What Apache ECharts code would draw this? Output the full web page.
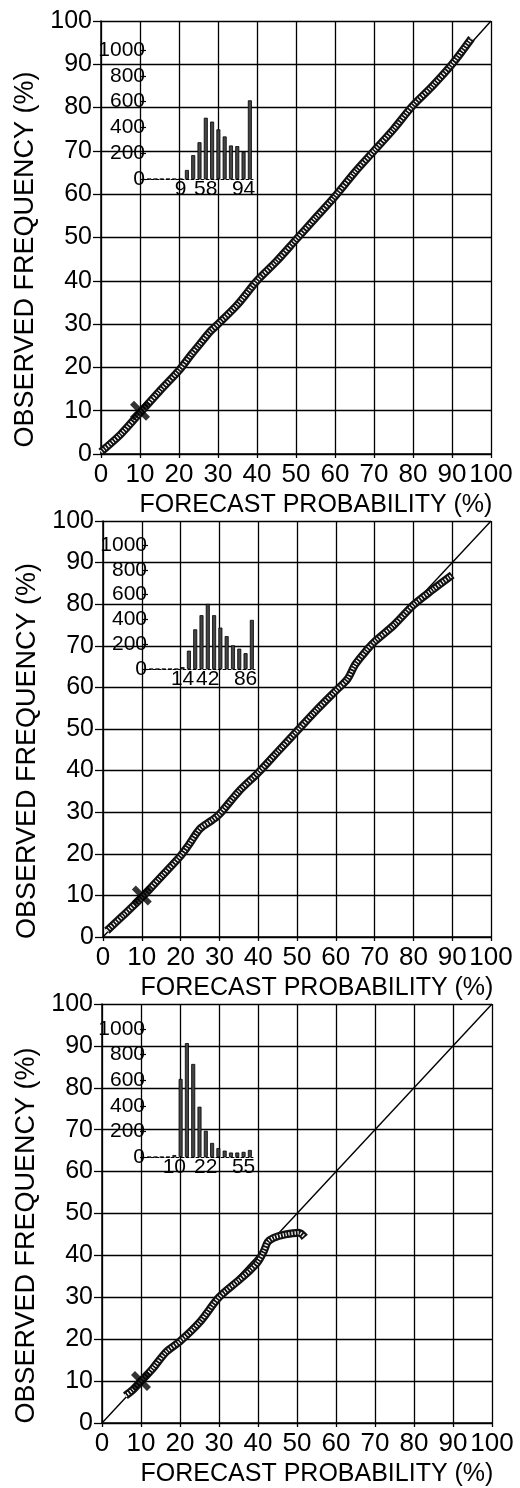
<!DOCTYPE html>
<html>
<head>
<meta charset="utf-8">
<script src="https://cdn.jsdelivr.net/npm/echarts@6/dist/echarts.min.js"></script>
<style>
html,body{margin:0;padding:0;background:#fff;}
#c{width:520px;height:1488px;}
</style>
</head>
<body>
<div id="c"></div>
<script>
// ---- data ----
const diagonal = [[0, 0], [100, 100]];
const climMark = [[10, 10]];

const curve1 = [[0,0.5],[5,4.5],[10,9.5],[15,14.5],[20,19.3],[23,22.8],[25,25],[28,28.3],[30,30],[35,34.5],[40,40],[45,44.5],[50,49.5],[55,54.5],[60,59.5],[65,65],[70,70],[75,75],[80,80.5],[85,85],[90,90],[95,96]];
const curve2 = [[1,1.5],[5,5],[10,9.5],[15,14.5],[20,19.5],[22,22],[25,26],[28,28],[30,29.5],[35,35],[40,39.5],[45,44.5],[50,49.5],[55,54.5],[60,59.2],[63,62],[65,65.5],[68,69],[70,71],[75,75],[80,79.8],[85,83.5],[90,87]];
const curve3 = [[6,6.5],[8,8],[10,10],[13,13],[16.5,17],[20,19.5],[25,24],[30,30],[35,34],[38,36.5],[40,38.5],[41.5,41],[42.5,43.2],[44,44.2],[47,45],[50.5,45.4],[52,44.3]];

const histCats = ['b0','b1','b2','b3','b4','b5','b6','b7','b8','b9','b10','b11','b12','b13','b14','b15','b16'];
const hist1 = [0,0,0,0,0,0,70,185,285,475,445,385,330,260,255,210,610];
const hist2 = [0,0,0,0,0,15,148,320,434,525,434,334,265,191,164,128,396];
const hist3 = [0,0,0,0,15,610,890,727,393,205,110,70,50,35,35,40,55];
const histLabels1 = ['','','','','','9','','','','58','','','','','','94',''];
const histLabels2 = ['','','','','','14','','','','42','','','','','','86',''];
const histLabels3 = ['','','','','10','','','','','22','','','','','','55',''];

const xTitle = 'FORECAST PROBABILITY (%)';
const yTitle = 'OBSERVED FREQUENCY (%)';

// ---- layout ----
const FONT = 'Liberation Sans, Arial, sans-serif';
const mainBoxes = [
  {left: 101, top: 21, width: 390, height: 433},
  {left: 103, top: 521, width: 388, height: 416},
  {left: 102, top: 1004, width: 390, height: 429}
];
const insetBoxes = [
  {left: 146, top: 50, width: 107, height: 129},
  {left: 148, top: 545, width: 107, height: 124},
  {left: 146, top: 1029, width: 107, height: 128}
];
const curves = [curve1, curve2, curve3];
const hists = [hist1, hist2, hist3];
const histLabels = [histLabels1, histLabels2, histLabels3];

const grid = [], xAxis = [], yAxis = [], series = [];
const X_PATH = 'path://M0,2 L2,0 L5,3 L8,0 L10,2 L7,5 L10,8 L8,10 L5,7 L2,10 L0,8 L3,5 Z';

for (let i = 0; i < 3; i++) {
  const m = mainBoxes[i];
  grid.push(Object.assign({containLabel: false}, m));
  const gi = grid.length - 1;
  xAxis.push({
    type: 'value', gridIndex: gi, min: 0, max: 100, interval: 10,
    axisLine: {show: true, onZero: false, lineStyle: {color: '#000', width: 1.5}},
    axisTick: {show: true, length: 4, lineStyle: {color: '#000', width: 1.3}},
    axisLabel: {color: '#000', fontSize: 26, fontFamily: FONT, margin: 8, hideOverlap: false},
    splitLine: {show: true, lineStyle: {color: '#000', width: 1.3}},
    name: xTitle, nameLocation: 'middle', nameGap: 39,
    nameTextStyle: {color: '#000', fontSize: 25, fontFamily: FONT, padding: [0, 0, 0, 40]}
  });
  yAxis.push({
    type: 'value', gridIndex: gi, min: 0, max: 100, interval: 10,
    axisLine: {show: true, onZero: false, lineStyle: {color: '#000', width: 1.5}},
    axisTick: {show: true, length: 8, lineStyle: {color: '#000', width: 1.3}},
    axisLabel: {color: '#000', fontSize: 25, fontFamily: FONT, margin: 9},
    splitLine: {show: true, lineStyle: {color: '#000', width: 1.3}},
    name: yTitle, nameLocation: 'middle', nameGap: 62,
    nameTextStyle: {color: '#000', fontSize: 27, fontFamily: FONT, padding: [0, 44, 0, 0]}
  });
  const ai = xAxis.length - 1;
  series.push({
    type: 'line', xAxisIndex: ai, yAxisIndex: ai, data: diagonal, symbol: 'none',
    lineStyle: {color: '#000', width: 1.4}, z: 3, silent: true
  });
  series.push({
    type: 'line', xAxisIndex: ai, yAxisIndex: ai, data: curves[i], symbol: 'none', smooth: 0.3,
    lineStyle: {color: '#111', width: 8}, z: 4, silent: true
  });
  series.push({
    type: 'line', xAxisIndex: ai, yAxisIndex: ai, data: curves[i], symbol: 'none', smooth: 0.3,
    lineStyle: {color: '#fff', width: 3.5, type: [1.2, 1.8]}, z: 5, silent: true
  });
  series.push({
    type: 'scatter', xAxisIndex: ai, yAxisIndex: ai, data: climMark, symbol: X_PATH, symbolSize: 20,
    itemStyle: {color: '#000'}, z: 6, silent: true
  });
}

for (let i = 0; i < 3; i++) {
  const b = insetBoxes[i];
  grid.push(Object.assign({containLabel: false}, b));
  const gi = grid.length - 1;
  const labs = histLabels[i];
  xAxis.push({
    type: 'category', gridIndex: gi, data: histCats, boundaryGap: true,
    axisLine: {show: true, lineStyle: {color: '#000', width: 1, type: [3, 2]}},
    axisTick: {show: false},
    axisLabel: {interval: 0, color: '#000', fontSize: 21, fontFamily: FONT, margin: 0,
      formatter: (v, idx) => labs[idx]},
    splitLine: {show: false}
  });
  yAxis.push({
    type: 'value', gridIndex: gi, min: 0, max: 1000, interval: 200,
    axisLine: {show: false},
    axisTick: {show: true, length: 6, lineStyle: {color: '#000', width: 1.2}},
    axisLabel: {color: '#000', fontSize: 21, fontFamily: FONT, margin: 1, formatter: v => String(v)},
    splitLine: {show: false}
  });
  const ai = xAxis.length - 1;
  series.push({
    type: 'bar', xAxisIndex: ai, yAxisIndex: ai, data: hists[i], barWidth: 4,
    itemStyle: {color: '#444', borderColor: '#000', borderWidth: 0.8}, z: 7, silent: true
  });
}

const chart = echarts.init(document.getElementById('c'), null, {renderer: 'canvas'});
chart.setOption({
  backgroundColor: '#fff',
  animation: false,
  grid, xAxis, yAxis, series
});
</script>
</body>
</html>
